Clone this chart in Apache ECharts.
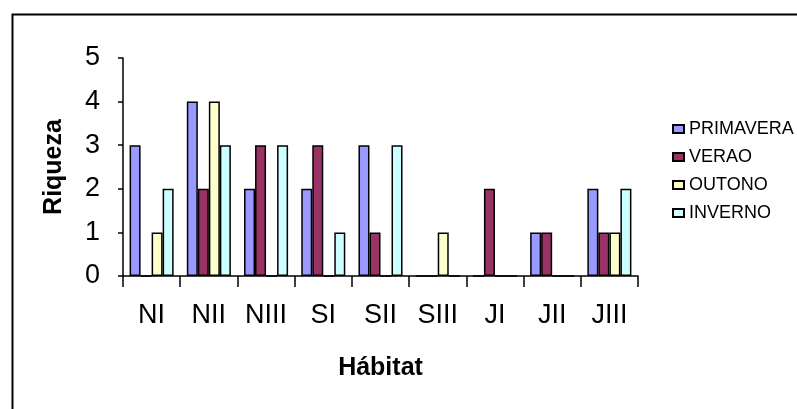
<!DOCTYPE html>
<html>
<head>
<meta charset="utf-8">
<script src="https://cdn.jsdelivr.net/npm/echarts@6/dist/echarts.min.js"></script>
<style>
html,body{margin:0;padding:0;background:#fff;}
#c{width:797px;height:409px;}
</style>
</head>
<body>
<div id="c"></div>
<script>
var categories = ['NI','NII','NIII','SI','SII','SIII','JI','JII','JIII'];
var primavera = [3,4,2,2,3,0,0,1,2];
var verao     = [0,2,3,3,1,0,2,1,1];
var outono    = [1,4,0,0,0,1,0,0,1];
var inverno   = [2,3,3,1,3,0,0,0,2];
var seriesNames = ['PRIMAVERA','VERAO','OUTONO','INVERNO'];
var seriesColors = ['#9999FF','#993366','#FFFFCC','#CCFFFF'];
var yTicks = [0,1,2,3,4,5];

var FONT = "'Liberation Sans', Arial, sans-serif";
var chart = echarts.init(document.getElementById('c'), null, {renderer:'canvas'});
var values = [primavera, verao, outono, inverno];
var series = values.map(function(v, i){
  return {
    name: seriesNames[i], type: 'bar', data: v,
    barGap: '0%', barCategoryGap: '23%',
    itemStyle: {color: seriesColors[i], borderColor: '#000', borderWidth: 1.5},
    emphasis: {disabled: true},
    animation: false
  };
});
chart.setOption({
  animation: false,
  backgroundColor: '#fff',
  graphic: [{
    type: 'rect', left: 10, top: 12, z: 100, silent: true,
    shape: {x: 0, y: 0, width: 820, height: 430},
    style: {fill: 'none', stroke: '#000', lineWidth: 2}
  }],
  legend: {
    orient: 'vertical', left: 667, top: 115,
    itemWidth: 11, itemHeight: 8, itemGap: 10,
    icon: 'rect',
    data: seriesNames,
    textStyle: {fontFamily: FONT, fontSize: 18, color: '#000', lineHeight: 18},
    selectedMode: false
  },
  grid: {left: 123, right: 159, top: 58, bottom: 133, containLabel: false},
  xAxis: {
    type: 'category', data: categories,
    boundaryGap: true,
    axisLine: {lineStyle: {color: '#000', width: 1.5}},
    axisTick: {show: true, length: 11, alignWithLabel: false, lineStyle: {color: '#000', width: 1.5}},
    axisLabel: {fontFamily: FONT, fontSize: 27, color: '#000', margin: 26, interval: 0},
    name: 'Hábitat', nameLocation: 'middle', nameGap: 80,
    nameTextStyle: {fontFamily: FONT, fontSize: 25, fontWeight: 'bold', color: '#000'}
  },
  yAxis: {
    type: 'value', min: yTicks[0], max: yTicks[yTicks.length-1], interval: 1,
    splitLine: {show: false},
    axisLine: {show: true, lineStyle: {color: '#000', width: 1.5}},
    axisTick: {show: true, length: 5, lineStyle: {color: '#000', width: 1.5}},
    axisLabel: {fontFamily: FONT, fontSize: 27, color: '#000', margin: 23},
    name: 'Riqueza', nameLocation: 'middle', nameGap: 56, nameRotate: 90,
    nameTextStyle: {fontFamily: FONT, fontSize: 25, fontWeight: 'bold', color: '#000'}
  },
  series: series
});
</script>
</body>
</html>
